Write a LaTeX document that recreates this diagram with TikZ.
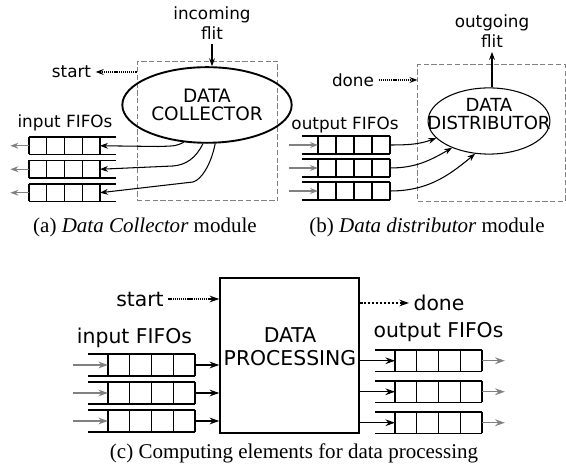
\documentclass[tikz,border=0pt]{standalone}
\usepackage{fontspec}
\setmainfont{Liberation Serif}
\newfontfamily\dejavu{DejaVu Sans}
\usetikzlibrary{calc}
\usetikzlibrary{arrows,arrows.meta}
\usetikzlibrary{shapes.geometric}

\tikzset{
  lbl/.style={font=\dejavu\fontsize{8}{9.5}\selectfont, inner sep=2pt},
  lblc/.style={font=\dejavu\fontsize{9.7}{11}\selectfont, inner sep=2pt},
  tip/.style={-{Stealth[length=3.8pt, width=2.8pt, inset=1.3pt]}},
  bigtip/.style={-{Stealth[length=4.6pt, width=3.2pt, inset=1.5pt]}},
  arr/.style={tip, line width=0.5pt},
  greyarr/.style={tip, gray, line width=0.6pt},
  dotarr/.style={tip, line width=0.5pt, dash pattern=on 0.6pt off 0.4pt},
  dasharr/.style={tip, line width=0.5pt, dash pattern=on 1.3pt off 0.6pt},
  modbox/.style={draw=gray, line width=0.5pt, dash pattern=on 2.5pt off 1.2pt},
  fifo/.pic={
    \draw[line width=0.5pt] (-0.9,0) -- (4,0) (-0.9,1) -- (4,1);
    \foreach \i in {0,...,4} \draw[line width=0.5pt] (\i,0) -- (\i,1);
    \coordinate (-in) at (0,0.5);
    \coordinate (-out) at (4,0.5);
    \coordinate (-src) at (-1.6,0.5);
    \coordinate (-dst) at (5.05,0.5);
  }
}

\begin{document}
\begin{tikzpicture}[x=0.476pt,y=-0.476pt]
\useasboundingbox (0,0) rectangle (566,468);

% (a) collector
\node[modbox, minimum width=67pt, minimum height=66.6pt, inner sep=0] (colbox) at (207.5,131) {};
\node[ellipse, draw, line width=0.9pt, minimum width=58pt, minimum height=36pt, inner sep=0, lbl, font=\dejavu\fontsize{8.8}{8.8}\selectfont, align=center] (coll) at (207,105) {DATA\\COLLECTOR};
\node[lbl, align=center] (flitin) at (212,23) {incoming\\flit};
\draw[arr] (flitin) -- (flitin |- coll.north);
\node[lbl] (starta) at (71.5,72) {start};
\draw[dotarr] (colbox.west |- starta) -- (starta);
\node[lbl] (ina) at (65,123) {input FIFOs};
\pic[xscale=-17.75, yscale=17.5] (ia1) at (100,137) {fifo};
\pic[xscale=-17.75, yscale=17.5] (ia2) at (100,160.5) {fifo};
\pic[xscale=-17.75, yscale=17.5] (ia3) at (100,184) {fifo};
\foreach \f in {ia1,ia2,ia3}
  \draw[greyarr] (\f-out) -- (\f-dst);
\draw[arr] (coll.238) .. controls (176,146) .. (158,146.5) -- (ia1-in);
\draw[arr] (coll.264) .. controls (196,158) and (186,165) .. (173,166) -- (ia2-in);
\draw[arr] (coll.282) .. controls (211,165) and (201,180) .. (193,182) -- (ia3-in);
\node (capa) at (145,227) {(a) \textit{Data Collector} module};

% (b) distributor
\node[modbox, minimum width=70pt, minimum height=65pt, inner sep=0] (disbox) at (491.5,133) {};
\node[ellipse, draw, line width=0.5pt, minimum width=58pt, minimum height=31.5pt, inner sep=0] (dist) at (489,121) {};
\node[align=center, font=\dejavu\fontsize{8.6}{8.6}\selectfont] (disttext) at (489,114) {DATA\\DISTRIBUTOR};
\node[lbl, align=center] (flitout) at (492,31) {outgoing\\flit};
\draw[arr] (dist.north -| flitout) -- (flitout);
\node[lbl] (doneb) at (353,80) {done};
\draw[dotarr] (doneb) -- (doneb -| disbox.west);
\node[lbl] (outb) at (345,125) {output FIFOs};
\pic[xscale=18, yscale=18] (ob1) at (318,136) {fifo};
\pic[xscale=18, yscale=18] (ob2) at (318,159) {fifo};
\pic[xscale=18, yscale=18] (ob3) at (318,182) {fifo};
\foreach \f in {ob1,ob2,ob3}
  \draw[greyarr] (\f-src) -- (\f-in);
\draw[arr] (ob1-out) to[out=0, in=200] (dist.198);
\draw[arr] (ob2-out) to[out=0, in=210] (dist.216);
\draw[arr] (ob3-out) to[out=0, in=220] (dist.247);
\node (capb) at (427,227) {(b) \textit{Data distributor} module};

% (c) processing
\node[draw, line width=0.7pt, minimum width=66.2pt, minimum height=73.8pt, inner sep=0] (proc) at (289.5,355.5) {};
\node[lblc, align=center] (proctext) at (290,346.5) {DATA\\PROCESSING};
\node[lblc] (startc) at (140,299) {start};
\draw[dotarr, bigtip] (startc) -- (startc -| proc.west);
\node[lblc] (donec) at (439,303) {done};
\draw[dasharr, bigtip] (donec -| proc.east) -- (donec);
\node[lblc] (inc) at (134.5,338) {input FIFOs};
\node[lblc] (outc) at (438.5,332) {output FIFOs};
\pic[xscale=21.75, yscale=22] (ic1) at (108,354) {fifo};
\pic[xscale=21.75, yscale=22] (ic2) at (108,382) {fifo};
\pic[xscale=21.75, yscale=22] (ic3) at (108,410) {fifo};
\pic[xscale=21.75, yscale=21.5] (oc1) at (395,350) {fifo};
\pic[xscale=21.75, yscale=21.5] (oc2) at (395,381) {fifo};
\pic[xscale=21.75, yscale=21.5] (oc3) at (395,412) {fifo};
\foreach \f in {ic1,ic2,ic3} {
  \draw[greyarr, bigtip] (\f-src) -- (\f-in);
  \draw[arr, bigtip] (\f-out) -- (\f-out -| proc.west);
}
\foreach \f in {oc1,oc2,oc3} {
  \draw[arr, bigtip] (\f-in -| proc.east) -- (\f-in);
  \draw[greyarr, bigtip] (\f-out) -- (\f-dst);
}
\node (capc) at (294,453) {(c) Computing elements for data processing};
\end{tikzpicture}
\end{document}
